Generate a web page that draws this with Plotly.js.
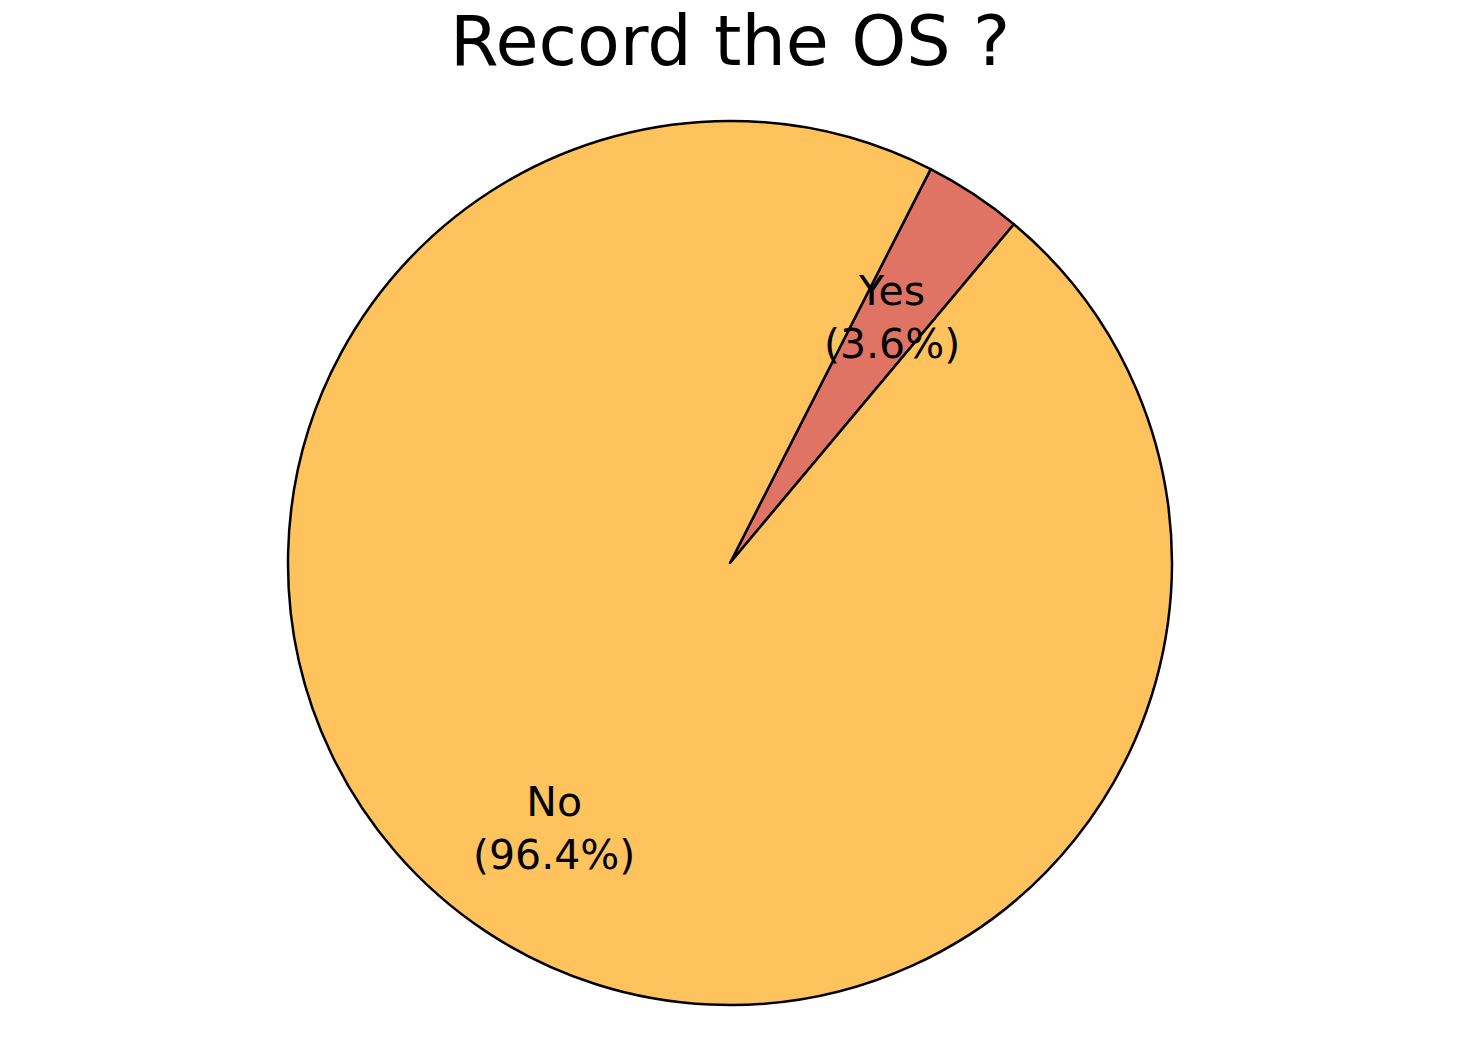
<!DOCTYPE html>
<html>
<head>
<meta charset="utf-8">
<script src="https://cdn.plot.ly/plotly-3.0.1.min.js"></script>
<style>
  html, body { margin: 0; padding: 0; background: #fff; }
  #myDiv { width: 1460px; height: 1060px; }
</style>
</head>
<body>
<div id="myDiv"></div>
<script>
var labels = ['Yes', 'No'];
var shares = [3.6, 96.4];
var colors = ['#E07464', '#FEC35C'];

// where the labels sit, as a fraction of the radius
var labelDist = [0.665, 0.72];

var W = 1460, H = 1060;
var margin = {l: 0, r: 0, t: 121, b: 55};
var rotation = 27;

var trace = {
  type: 'pie',
  labels: labels,
  values: shares,
  sort: false,
  direction: 'counterclockwise',
  rotation: rotation,
  textinfo: 'none',
  hoverinfo: 'label+percent',
  marker: {
    colors: colors,
    line: {color: '#000', width: 2.5}
  },
  showlegend: false
};

// label positions from slice mid angles (slices run clockwise from the start angle)
var total = shares.reduce(function (a, b) { return a + b; }, 0);
var plotW = W - margin.l - margin.r, plotH = H - margin.t - margin.b;
var radius = Math.min(plotW, plotH) / 2;
var annotations = [];
var cum = 0;
labels.forEach(function (lab, i) {
  var frac = shares[i] / total;
  var mid = (90 - rotation - (cum + frac / 2) * 360) * Math.PI / 180;
  cum += frac;
  annotations.push({
    xref: 'paper', yref: 'paper',
    x: 0.5 + labelDist[i] * radius * Math.cos(mid) / plotW,
    y: 0.5 + labelDist[i] * radius * Math.sin(mid) / plotH,
    text: lab + '<br>(' + shares[i].toFixed(1) + '%)',
    showarrow: false,
    align: 'center',
    xanchor: 'center', yanchor: 'middle',
    font: {family: 'DejaVu Sans', size: 41, color: '#000'}
  });
});

var layout = {
  width: W,
  height: H,
  margin: margin,
  paper_bgcolor: '#fff',
  title: {
    text: 'Record the OS ?',
    font: {family: 'DejaVu Sans', size: 70, color: '#000'},
    x: 0.5, xanchor: 'center',
    yref: 'container', y: 1 - 40 / H, yanchor: 'middle'
  },
  annotations: annotations
};

Plotly.newPlot('myDiv', [trace], layout, {displayModeBar: false});
</script>
</body>
</html>
